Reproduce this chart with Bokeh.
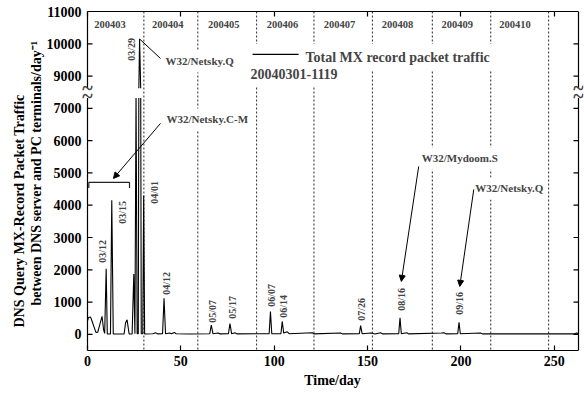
import math
from bokeh.plotting import figure
from bokeh.models import (Range1d, LinearAxis, FixedTicker, Label, Span, Title,
                          BoxAnnotation, Arrow, NormalHead)
from bokeh.embed import file_html
from bokeh.resources import INLINE

FONT = "Liberation Serif"

# ---------------- data ----------------
days = [0.0, 0.5, 1.6, 2.8, 4.5, 5.5, 6.8, 7.8, 8.6, 9.2, 10.0, 10.6, 12.3, 13.0, 13.8,
        19.6, 20.4, 21.2, 22.3, 23.9, 24.8, 25.4, 26.0, 26.6, 27.2, 27.5, 27.9, 28.5,
        28.8, 29.6, 30.1, 30.6,
        35.0, 36.5, 37.5, 40.2, 41.0, 41.8, 44.0, 45.0, 46.5, 47.5, 55.0, 65.5, 66.3,
        67.2, 70.0, 71.0, 75.5, 76.3, 77.2, 79.0, 80.0, 97.3, 98.0, 98.7, 103.6, 104.3,
        105.1, 107.0, 108.0, 120.4, 121.2, 135.6, 136.5, 145.6, 146.3, 147.1, 152.0,
        154.0, 157.0, 158.0, 166.7, 167.4, 168.1, 171.0, 172.0, 189.5, 191.0, 192.0,
        198.3, 199.0, 199.7, 210.6, 211.5, 261.0, 262.0, 263.0]
traffic = [420, 520, 540, 350, 60, 70, 350, 560, 150, 30, 2030, 15, 10, 4150, 10,
           10, 360, 450, 10, 10, 1870, 20, 8300, 20, 20, 8600, 10150, 8600,
           20, 20, 4300, 10,
           20, 50, 15, 20, 1120, 20, 40, 20, 60, 20, 10, 20, 290,
           20, 40, 15, 20, 330, 20, 50, 15, 20, 710, 20, 20, 400,
           40, 80, 20, 50, 15, 40, 15, 20, 270, 20, 40,
           10, 50, 15, 20, 510, 20, 50, 15, 40, 50, 15,
           20, 370, 20, 40, 15, 15, 40, 15]

month_bounds = [30.2, 59.1, 90.6, 121.3, 152.6, 184.7, 216.0, 247.0]
month_names = ["200403", "200404", "200405", "200406", "200407", "200408", "200409", "200410"]
month_centers = [12.0, 43.0, 73.0, 104.5, 135.0, 166.0, 198.0, 229.0]

date_texts = ["03/12", "03/15", "03/29", "04/01", "04/12", "05/07", "05/17",
              "06/07", "06/14", "07/26", "08/16", "09/16"]
date_x = [8.0, 18.6, 23.6, 35.9, 42.3, 67.0, 77.5, 98.6, 105.0, 146.7, 168.1, 199.4]
date_y = [2570, 3777, 9824, 4396, 1579, 712, 836, 1207, 867, 774, 1084, 960]

virus_texts = ["W32/Netsky.Q", "W32/Netsky.C-M", "W32/Mydoom.S", "W32/Netsky.Q"]
virus_x = [40.2, 40.7, 177.4, 206.1]
virus_y = [9452, 6656, 5449, 4520]
# pointer lines: (x_start, y_start) -> (x_end, y_end), in data units
ptr_x0 = [27.9, 39.1, 177.4, 206.9]
ptr_y0 = [10150, 6533, 5201, 4489]
ptr_x1 = [39.1, 13.9, 168.1, 199.4]
ptr_y1 = [9545, 4830, 1641, 1486]
ptr_head = [False, True, True, True]
bracket_x = [0.7, 0.7, 22.5, 22.5]
bracket_y = [4530, 4706, 4706, 4530]

x_ticks = [0, 50, 100, 150, 200, 250]
y_ticks = [0, 1000, 2000, 3000, 4000, 5000, 6000, 7000, 9000, 10000, 11000]
X_MIN, X_MAX = 0, 263
Y_MIN, Y_MAX = -500, 11000

# ---------------- broken y scale ----------------
BREAK_LO, BREAK_HI = 7500, 8500
GAP_LO, GAP_HI = 7320, 7620     # displayed band that is left blank


def disp(v):
    if v <= BREAK_LO:
        return v
    if v >= BREAK_HI:
        return v - (BREAK_HI - BREAK_LO)
    return BREAK_LO


PX_PER_DAY = 491 / 263.0
p = figure(width=584, height=392,
           x_range=Range1d(X_MIN - 6 / PX_PER_DAY, X_MAX + 5 / PX_PER_DAY),
           y_range=Range1d(disp(Y_MIN), disp(Y_MAX)),
           x_axis_type=None, y_axis_type=None,
           output_backend="svg", toolbar_location=None,
           min_border_left=81, min_border_right=1, min_border_top=11, min_border_bottom=42)
p.outline_line_color = None
p.background_fill_color = "white"
p.border_fill_color = "white"

common = dict(major_tick_in=5, major_tick_out=0, minor_tick_in=0, minor_tick_out=0,
              axis_line_color="black", axis_line_width=1.2,
              major_tick_line_color="black", major_tick_line_width=1.2,
              major_label_text_font=FONT, major_label_text_font_style="bold",
              major_label_text_font_size="14px", major_label_text_color="black")

bx = LinearAxis(ticker=FixedTicker(ticks=x_ticks), bounds=(X_MIN, X_MAX),
                major_label_overrides={float(t): str(t) for t in x_ticks},
                major_label_standoff=5, axis_label="Time/day", axis_label_standoff=4,
                axis_label_text_font=FONT, axis_label_text_font_style="bold",
                axis_label_text_font_size="14px", axis_label_text_color="black", **common)
p.add_layout(bx, "below")
tx = LinearAxis(ticker=FixedTicker(ticks=x_ticks), bounds=(X_MIN, X_MAX),
                major_label_overrides={float(t): "" for t in x_ticks},
                major_label_standoff=0, **common)
p.add_layout(tx, "above")

yt = [disp(t) for t in y_ticks]
ly = LinearAxis(ticker=FixedTicker(ticks=yt),
                major_label_overrides={float(disp(t)): str(t) for t in y_ticks},
                major_label_standoff=0, **common)
ly.axis_line_color = None
ly.major_tick_line_color = None
p.add_layout(ly, "left")
p.add_layout(Title(text="between DNS server and PC terminals/day\u207b\u00b9", align="left",
                   offset=45, standoff=0, text_font=FONT, text_font_style="bold",
                   text_font_size="14px", text_color="black"), "left")
p.add_layout(Title(text="DNS Query MX-Record Packet Traffic", align="left",
                   offset=23, standoff=0, text_font=FONT, text_font_style="bold",
                   text_font_size="14px", text_color="black"), "left")

# left / right frame sides (broken) and their inward ticks
TICK = 5 / PX_PER_DAY
p.multi_line(xs=[[X_MIN, X_MIN], [X_MIN, X_MIN], [X_MAX, X_MAX], [X_MAX, X_MAX]],
             ys=[[disp(Y_MIN), GAP_LO], [GAP_HI, disp(Y_MAX)],
                 [disp(Y_MIN), GAP_LO], [GAP_HI, disp(Y_MAX)]],
             line_color="black", line_width=1.2)
p.segment(x0=[X_MIN] * len(yt) + [X_MAX] * len(yt),
          x1=[X_MIN + TICK] * len(yt) + [X_MAX - TICK] * len(yt),
          y0=yt + yt, y1=yt + yt, line_color="black", line_width=1.2)

# series
p.line(x=days, y=[disp(v) for v in traffic], line_color="black", line_width=1.1)

# break band hiding the series
p.add_layout(BoxAnnotation(bottom=GAP_LO, top=GAP_HI, left=X_MIN + 0.6, right=X_MAX - 0.6,
                           fill_color="white", fill_alpha=1.0, line_color=None))

# month boundaries
for b in month_bounds:
    p.add_layout(Span(location=b, dimension="height", line_color="black",
                      line_dash="2 2", line_width=1, line_alpha=0.85))

for name, cx in zip(month_names, month_centers):
    p.add_layout(Label(x=cx, y=9600, text=name, text_font=FONT, text_font_style="bold",
                       text_font_size="10.5px", text_align="center", text_baseline="middle"))

for t, x, y in zip(date_texts, date_x, date_y):
    p.add_layout(Label(x=x, y=disp(y), text=t, angle=math.pi / 2, text_font=FONT,
                       text_font_style="bold", text_font_size="10px",
                       text_align="center", text_baseline="middle"))

# virus annotations
for t, x, y in zip(virus_texts, virus_x, virus_y):
    p.add_layout(Label(x=x, y=disp(y), text=t, text_font=FONT, text_font_style="bold",
                       text_font_size="11px", text_align="left", text_baseline="middle",
                       background_fill_color="white", padding=(3, 3, 5, 5)))

for x0, y0, x1, y1, h in zip(ptr_x0, ptr_y0, ptr_x1, ptr_y1, ptr_head):
    head = NormalHead(size=6, fill_color="black", line_color="black", line_width=1) if h else None
    p.add_layout(Arrow(x_start=x0, y_start=disp(y0), x_end=x1, y_end=disp(y1),
                       end=head, line_color="black", line_width=1))

p.line(x=bracket_x, y=[disp(v) for v in bracket_y], line_color="#222222", line_width=1.2)

# legend (drawn by hand as in the reference)
p.add_layout(Label(x=87.3, y=8576, text="Total MX  record packet traffic", text_font=FONT,
                   text_font_style="bold", text_font_size="14px", text_align="left",
                   text_baseline="middle", background_fill_color="white",
                   padding=(55, 4, 6, 6)))
p.add_layout(Label(x=85.7, y=7941, text="20040301-1119", text_font=FONT,
                   text_font_style="bold", text_font_size="14px", text_align="left",
                   text_baseline="middle", background_fill_color="white",
                   padding=(3, 3, 0, 7)))
p.add_layout(Arrow(x_start=88.4, y_start=8669, x_end=113.1, y_end=8669, end=None,
                   line_color="black", line_width=1.2))

# axis break marks
for bxp in [X_MIN, X_MAX]:
    for ty in [7616, 7368]:
        p.add_layout(Label(x=bxp, y=ty, text="~", text_font=FONT, text_font_style="bold",
                           text_font_size="20px", text_align="center", text_baseline="middle"))

open("out.html", "w").write(file_html(p, INLINE))
